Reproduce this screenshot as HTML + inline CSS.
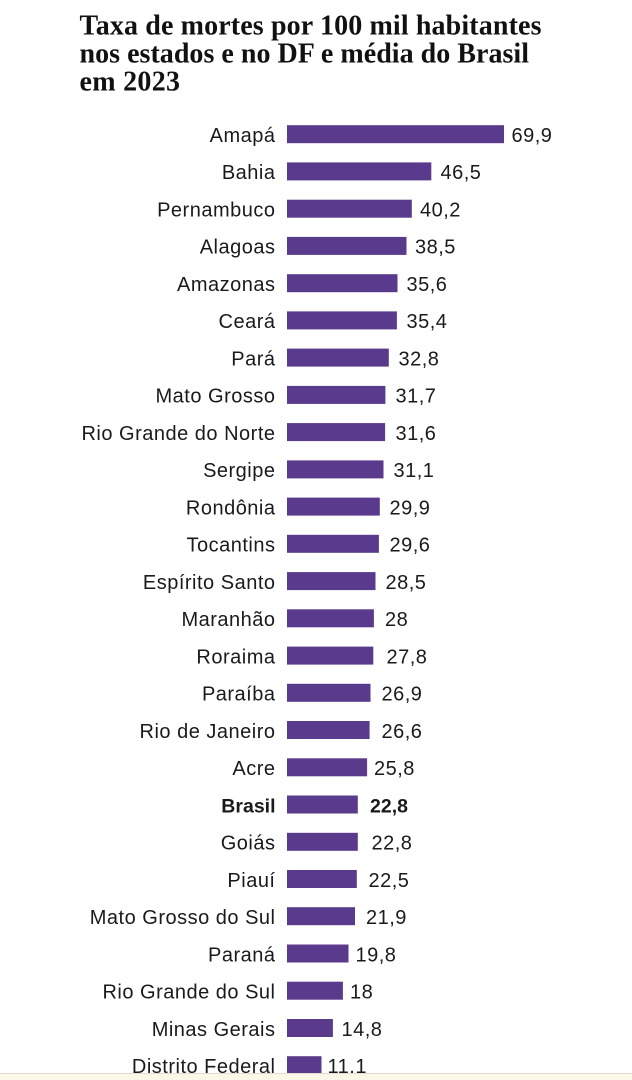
<!DOCTYPE html>
<html>
<head>
<meta charset="utf-8">
<style>
html,body{margin:0;padding:0;background:#fff;}
body{width:632px;height:1080px;overflow:hidden;position:relative;}
svg{display:block;}
.t{font-family:"Liberation Serif",serif;font-weight:bold;font-size:28px;fill:#111;}
.l{font-family:"Liberation Sans",sans-serif;font-size:20px;fill:#1a1a1a;letter-spacing:0.5px;}
.b{font-weight:bold;letter-spacing:0;font-size:19.5px;}
</style>
</head>
<body>
<svg width="632" height="1080" viewBox="0 0 632 1080" xmlns="http://www.w3.org/2000/svg">
<rect x="0" y="0" width="632" height="1080" fill="#fff"/>
<text class="t" x="79.5" y="34.3" textLength="462" lengthAdjust="spacing">Taxa de mortes por 100 mil habitantes</text>
<text class="t" x="79.5" y="62.5" textLength="449.5" lengthAdjust="spacing">nos estados e no DF e média do Brasil</text>
<text class="t" x="79.5" y="90.7" textLength="100.5" lengthAdjust="spacing">em 2023</text>
<g id="rows"></g>
<rect x="0" y="1073" width="632" height="1" fill="#e4ddcf"/>
<rect x="0" y="1074" width="632" height="6" fill="#fdf7ea"/>
</svg>
<script>
var data=[
["Amapá","69,9",69.9,512.5],
["Bahia","46,5",46.5,441.5],
["Pernambuco","40,2",40.2,421],
["Alagoas","38,5",38.5,416],
["Amazonas","35,6",35.6,407.5],
["Ceará","35,4",35.4,407.5],
["Pará","32,8",32.8,399.5],
["Mato Grosso","31,7",31.7,396.5],
["Rio Grande do Norte","31,6",31.6,396.5],
["Sergipe","31,1",31.1,394.5],
["Rondônia","29,9",29.9,390.5],
["Tocantins","29,6",29.6,390.5],
["Espírito Santo","28,5",28.5,386.5],
["Maranhão","28",28,386],
["Roraima","27,8",27.8,387.5],
["Paraíba","26,9",26.9,382.5],
["Rio de Janeiro","26,6",26.6,382.5],
["Acre","25,8",25.8,375],
["Brasil","22,8",22.8,371],
["Goiás","22,8",22.8,372.5],
["Piauí","22,5",22.5,369.5],
["Mato Grosso do Sul","21,9",21.9,367],
["Paraná","19,8",19.8,356.5],
["Rio Grande do Sul","18",18,351],
["Minas Gerais","14,8",14.8,342.5],
["Distrito Federal","11.1",11.1,328.5]
];
var ns="http://www.w3.org/2000/svg";
var g=document.getElementById("rows");
for(var i=0;i<data.length;i++){
  var d=data[i];
  var c=134.2+37.24*i;
  var r=document.createElementNS(ns,"rect");
  r.setAttribute("x","287");
  r.setAttribute("y",(c-9).toFixed(1));
  r.setAttribute("width",(d[2]*3.104).toFixed(1));
  r.setAttribute("height","18");
  r.setAttribute("fill","#5a3a8c");
  g.appendChild(r);
  var t=document.createElementNS(ns,"text");
  t.setAttribute("x","275.5");
  t.setAttribute("y",(c+7.8).toFixed(1));
  t.setAttribute("text-anchor","end");
  t.setAttribute("class", d[0]=="Brasil" ? "l b" : "l");
  t.textContent=d[0];
  g.appendChild(t);
  var v=document.createElementNS(ns,"text");
  v.setAttribute("x",(d[3]-1).toFixed(1));
  v.setAttribute("y",(c+7.8).toFixed(1));
  v.setAttribute("class", d[0]=="Brasil" ? "l b" : "l");
  v.textContent=d[1];
  g.appendChild(v);
}
</script>
</body>
</html>
